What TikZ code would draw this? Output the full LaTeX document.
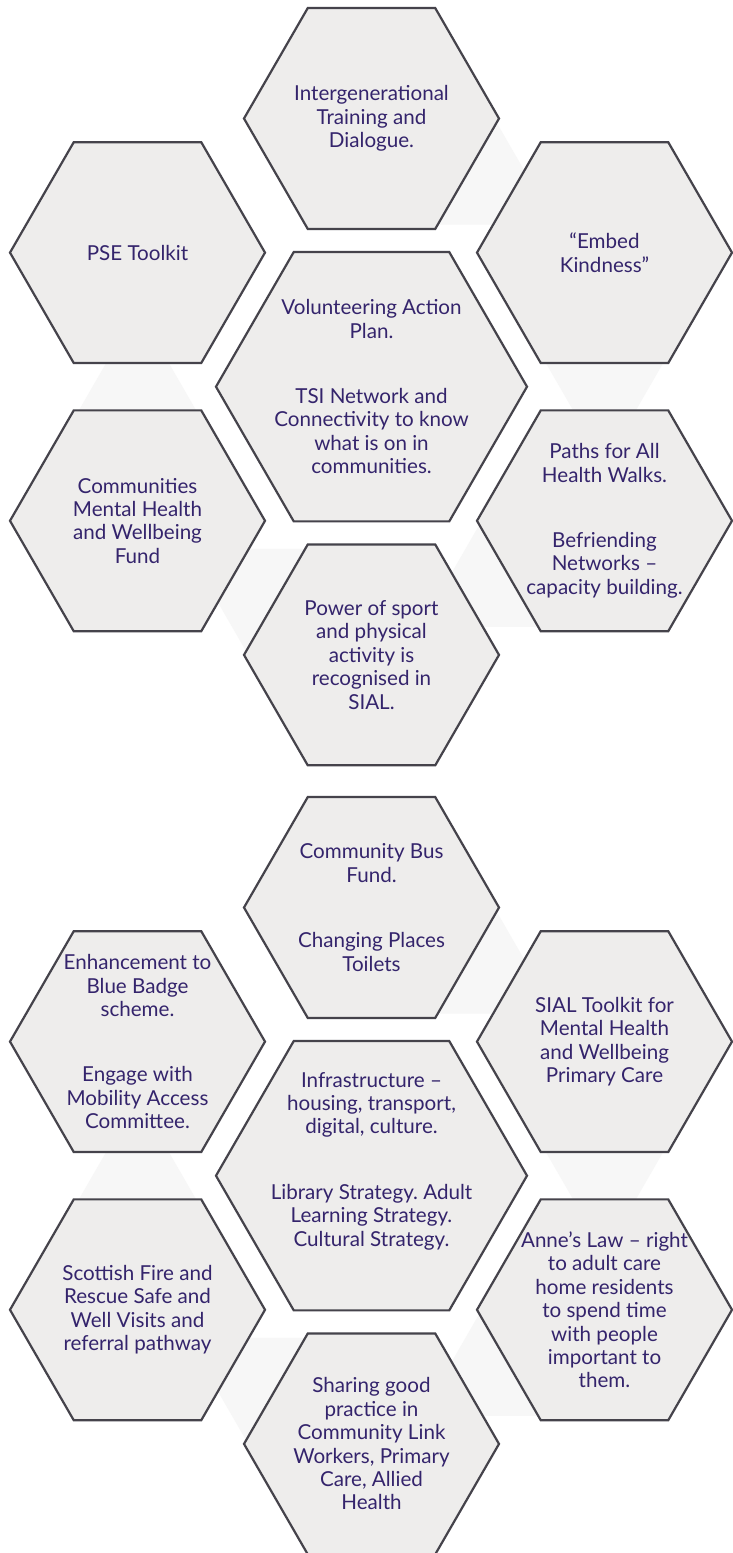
\documentclass[tikz,border=0pt]{standalone}
\usepackage{fontspec}
\setmainfont{Lato}
\frenchspacing
\definecolor{cellfill}{HTML}{EEEDEC}
\definecolor{celledge}{HTML}{45434B}
\definecolor{trifill}{HTML}{F7F7F7}
\definecolor{inkpurple}{HTML}{34246C}
\begin{document}
\begin{tikzpicture}[x=1pt,y=-1pt,
  hexcell/.style={fill=cellfill,draw=celledge,line width=2.2pt,line join=miter},
  linktri/.style={fill=trifill},
  txt/.style={text=inkpurple,align=center,inner sep=0pt,font=\fontsize{20.6}{23.4}\selectfont},
  pics/hexa/.style={code={\draw[hexcell] (0:#1)--(60:#1)--(120:#1)--(180:#1)--(240:#1)--(300:#1)--cycle;}},
  pics/uptri/.style={code={\fill[linktri] (0,-78)--(67.5,39)--(-67.5,39)--cycle;}},
  pics/downtri/.style={code={\fill[linktri] (0,78)--(67.5,-39)--(-67.5,-39)--cycle;}}]
\useasboundingbox (0,0) rectangle (732,1553);
\fill[white] (0,0) rectangle (732,1553);

% faint link triangles running clockwise between neighbouring outer cells
\foreach \dy in {0,789}{
  \pic at (488,185.6+\dy) {uptri};
  \pic at (604.5,386.7+\dy) {downtri};
  \pic at (488,587.8+\dy) {uptri};
  \pic at (254.5,587.8+\dy) {downtri};
  \pic at (137.5,386.7+\dy) {uptri};
}

% hexagon cells
\foreach \dy in {0,789}{
  \pic at (371.5,118.5+\dy) {hexa=127.5};
  \pic at (137.5,252.6+\dy) {hexa=127.5};
  \pic at (604.5,252.6+\dy) {hexa=127.5};
  \pic at (371.5,386.7+\dy) {hexa=155.5};
  \pic at (137.5,520.8+\dy) {hexa=127.5};
  \pic at (604.5,520.8+\dy) {hexa=127.5};
  \pic at (371.5,654.9+\dy) {hexa=127.5};
}

% upper cluster texts
\node[txt] (intergen) at (371.5,118.5) {Intergenerational\\Training and\\Dialogue.};
\node[txt] (pse) at (137.5,252.6) {PSE Toolkit};
\node[txt] (embed) at (604.5,252.6) {“Embed\\Kindness”};
\node[txt] (volunteer) at (371.5,386.7) {Volunteering Action\\Plan.\\[42pt]TSI Network and\\Connectivity to know\\what is on in\\communities.};
\node[txt] (commfund) at (137.5,520.8) {Communities\\Mental Health\\and Wellbeing\\Fund};
\node[txt] (paths) at (604.5,520.8) {Paths for All\\Health Walks.\\[42pt]Befriending\\Networks –\\capacity building.};
\node[txt] (sport) at (371.5,654.9) {Power of sport\\and physical\\activity is\\recognised in\\SIAL.};

% lower cluster texts
\node[txt] (bus) at (371.5,907.5) {Community Bus\\Fund.\\[42pt]Changing Places\\Toilets};
\node[txt] (badge) at (137.5,1041.6) {Enhancement to\\Blue Badge\\scheme.\\[42pt]Engage with\\Mobility Access\\Committee.};
\node[txt] (sialkit) at (604.5,1041.6) {SIAL Toolkit for\\Mental Health\\and Wellbeing\\Primary Care};
\node[txt] (infra) at (371.5,1161) {Infrastructure –\\housing, transport,\\digital, culture.\\[42pt]Library Strategy. Adult\\Learning Strategy.\\Cultural Strategy.};
\node[txt] (fire) at (137.5,1309.8) {Scottish Fire and\\Rescue Safe and\\Well Visits and\\referral pathway};
\node[txt] (annes) at (604.5,1309.8) {Anne’s Law – right\\to adult care\\home residents\\to spend time\\with people\\important to\\them.};
\node[txt] (sharing) at (371.5,1443.9) {Sharing good\\practice in\\Community Link\\Workers, Primary\\Care, Allied\\Health};
\end{tikzpicture}
\end{document}
